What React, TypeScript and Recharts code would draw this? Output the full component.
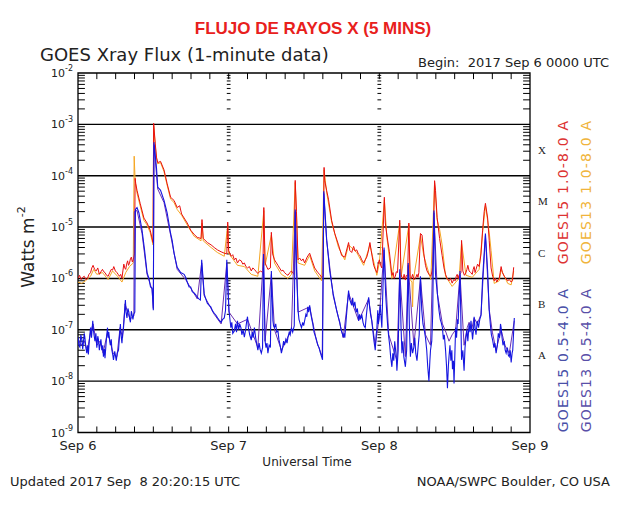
import React from 'react';
import { LineChart, Line, XAxis, YAxis, ReferenceLine, ReferenceArea } from 'recharts';

// ---------- data (time in hours since 2017 Sep 6 00:00 UT, flux in W/m^2) ----------
const dayTicks = [0, 24, 48, 72];
const dayLabels = ['Sep 6', 'Sep 7', 'Sep 8', 'Sep 9'];
const decadeTicks = [1e-9, 1e-8, 1e-7, 1e-6, 1e-5, 1e-4, 1e-3, 1e-2];
const gridDecades = [1e-8, 1e-7, 1e-6, 1e-5, 1e-4, 1e-3];
const classTicks = [3.1623e-8, 3.1623e-7, 3.1623e-6, 3.1623e-5, 3.1623e-4];
const classLetters = ['A', 'B', 'C', 'M', 'X'];
const hourTicks = [3, 6, 9, 12, 15, 18, 21, 24, 27, 30, 33, 36, 39, 42, 45, 48, 51, 54, 57, 60, 63, 66, 69];
const minorMult = [2, 3, 4, 5, 6, 7, 8, 9];
const decadeExps = [-9, -8, -7, -6, -5, -4, -3];

const g15Long: [number, number][] = [
  [0, 1.0e-6], [0.25, 1.15e-6], [0.5, 9.5e-7], [0.75, 1.05e-6], [1.0, 1.1e-6], [1.25, 9.5e-7], [1.5, 1.0e-6],
  [1.75, 1.2e-6], [2.0, 1.3e-6], [2.2, 1.6e-6], [2.4, 1.8e-6], [2.65, 1.5e-6], [2.9, 1.4e-6], [3.15, 1.6e-6],
  [3.4, 1.2e-6], [3.65, 1.35e-6], [3.9, 1.5e-6], [4.1, 1.35e-6], [4.3, 1.3e-6], [4.55, 1.15e-6],
  [4.8, 1.1e-6], [5.05, 1.3e-6], [5.3, 1.5e-6], [5.5, 1.45e-6], [5.7, 1.7e-6], [5.95, 1.4e-6],
  [6.2, 1.3e-6], [6.4, 1.2e-6], [6.6, 1.1e-6], [6.8, 1.2e-6], [7.0, 1.0e-6], [7.15, 1.4e-6], [7.3, 1.9e-6],
  [7.45, 1.6e-6], [7.6, 1.5e-6], [7.75, 1.9e-6], [7.9, 2.2e-6], [8.05, 1.8e-6], [8.2, 2.0e-6],
  [8.35, 2.4e-6], [8.5, 2.6e-6], [8.65, 2.1e-6], [8.8, 2.3e-6], [9.0, 3.0e-6], [9.1, 8.9e-5],
  [9.2, 7.0e-5], [9.4, 5.2e-5], [9.9, 2.9e-5], [10.5, 1.5e-5], [11.0, 1.2e-5], [11.5, 8.7e-6],
  [11.95, 5.0e-6], [12.05, 1.05e-3], [12.3, 4.3e-4], [12.5, 2.3e-4], [12.7, 1.8e-4], [13.15, 1.9e-4],
  [13.7, 1.3e-4], [14.2, 7.0e-5], [14.75, 3.8e-5], [15.3, 3.3e-5], [15.8, 2.4e-5], [16.2, 2.6e-5],
  [16.5, 1.8e-5], [16.9, 1.5e-5], [17.4, 1.2e-5], [17.95, 8.7e-6], [18.5, 7.2e-6], [19.0, 6.3e-6],
  [19.6, 6.0e-6], [19.75, 1.4e-5], [19.95, 6.0e-6], [20.6, 5.0e-6], [21.2, 4.5e-6], [21.7, 4.0e-6],
  [22.2, 3.6e-6], [22.8, 3.3e-6], [23.3, 3.1e-6], [23.7, 3.0e-6], [23.85, 1.25e-5], [24.0, 3.5e-6],
  [24.4, 2.7e-6], [24.65, 2.9e-6], [24.9, 2.3e-6], [25.15, 2.5e-6], [25.4, 2.0e-6], [25.7, 2.3e-6],
  [26.0, 2.2e-6], [26.25, 1.9e-6], [26.5, 2.0e-6], [26.75, 1.7e-6], [27.0, 1.6e-6], [27.3, 1.7e-6],
  [27.6, 1.4e-6], [27.85, 1.6e-6], [28.1, 1.5e-6], [28.4, 1.35e-6], [28.65, 1.25e-6], [29.05, 1.4e-6],
  [29.45, 1.3e-6], [29.6, 2.4e-5], [29.8, 2.0e-6], [30.25, 1.5e-6], [30.65, 1.6e-6], [30.8, 7.9e-6],
  [31.0, 3.0e-6], [31.3, 2.3e-6], [31.85, 1.8e-6], [32.1, 1.6e-6], [32.4, 1.4e-6], [32.65, 1.45e-6],
  [32.9, 1.3e-6], [33.2, 1.2e-6], [33.45, 1.15e-6], [33.75, 1.3e-6], [34.0, 1.4e-6], [34.4, 1.2e-6],
  [34.6, 8.1e-5], [34.8, 2.0e-5], [35.05, 2.3e-6], [35.3, 2.5e-6], [35.6, 2.2e-6], [35.85, 2.4e-6],
  [36.1, 2.0e-6], [36.5, 2.6e-6], [36.9, 3.1e-6], [37.3, 2.2e-6], [37.7, 1.6e-6], [38.2, 1.3e-6],
  [38.5, 1.2e-6], [38.8, 1.05e-6], [39.05, 1.1e-6], [39.2, 1.45e-4], [39.3, 8.0e-5], [39.6, 5.2e-5],
  [39.9, 3.5e-5], [40.4, 1.36e-5], [40.9, 7.5e-6], [41.5, 4.5e-6], [42.0, 2.8e-6], [42.5, 2.6e-6],
  [43.1, 5.0e-6], [43.3, 3.5e-6], [43.6, 3.2e-6], [43.9, 4.2e-6], [44.15, 3.4e-6], [44.4, 3.6e-6],
  [44.65, 3.0e-6], [44.9, 2.8e-6], [45.2, 2.3e-6], [45.5, 2.0e-6], [45.75, 2.3e-6], [46.0, 2.6e-6],
  [46.25, 3.4e-6], [46.5, 5.0e-6], [46.7, 3.5e-6], [46.9, 2.5e-6], [47.1, 1.8e-6], [47.35, 1.5e-6],
  [47.6, 1.3e-6], [47.8, 1.9e-6], [48.0, 2.3e-6], [48.2, 1.8e-6], [48.4, 1.6e-6], [48.8, 3.8e-5],
  [48.95, 1.2e-5], [49.2, 7.0e-6], [49.6, 3.3e-6], [50.0, 1.15e-6], [50.2, 1.3e-6], [50.35, 1.0e-6],
  [50.55, 1.1e-6], [50.7, 1.35e-6], [50.9, 1.3e-6], [51.25, 1.36e-5], [51.45, 1.2e-6], [51.6, 1.05e-6],
  [51.8, 1.0e-6], [51.95, 1.2e-6], [52.15, 9.3e-7], [52.3, 1.15e-6], [52.5, 1.1e-6], [52.7, 1.2e-5],
  [52.9, 1.1e-6], [53.1, 1.0e-6], [53.3, 1.2e-6], [53.5, 9.5e-7], [53.75, 1.0e-6], [54.0, 1.2e-6],
  [54.15, 1.05e-6], [54.3, 1.3e-6], [54.55, 7.5e-6], [54.8, 7.0e-6], [55.1, 3.0e-6], [55.35, 1.8e-6],
  [55.6, 1.4e-6], [55.9, 1.2e-6], [56.2, 1.1e-6], [56.4, 1.4e-6], [56.55, 2.0e-6], [56.8, 8.0e-5],
  [56.95, 5.2e-5], [57.2, 1.55e-5], [57.6, 6.0e-6], [58.0, 2.8e-6], [58.3, 1.6e-6], [58.55, 1.2e-6],
  [58.8, 1.0e-6], [59.1, 9.0e-7], [59.35, 1.0e-6], [59.6, 8.1e-7], [59.85, 9.5e-7], [60.1, 9.0e-7],
  [60.25, 1.1e-6], [60.4, 1.2e-6], [60.55, 1.0e-6], [60.7, 1.15e-6], [61.0, 1.3e-6], [61.1, 5.5e-6],
  [61.3, 1.4e-6], [61.55, 1.15e-6], [61.8, 1.3e-6], [61.95, 1.5e-6], [62.1, 1.8e-6], [62.3, 1.4e-6],
  [62.55, 1.3e-6], [62.8, 1.2e-6], [62.95, 1.5e-6], [63.1, 1.7e-6], [63.25, 1.3e-6], [63.4, 1.5e-6],
  [63.65, 1.9e-6], [63.9, 1.7e-6], [64.2, 3.0e-6], [64.45, 8.7e-6], [64.7, 2.0e-5], [64.9, 2.9e-5],
  [65.25, 1.5e-5], [65.5, 5.5e-6], [65.8, 1.6e-6], [66.05, 1.1e-6], [66.3, 9.0e-7], [66.5, 1.0e-6],
  [66.7, 8.5e-7], [66.9, 9.5e-7], [67.1, 1.0e-6], [67.25, 1.3e-6], [67.4, 1.7e-6], [67.6, 1.3e-6],
  [67.9, 1.1e-6], [68.15, 1.0e-6], [68.45, 9.0e-7], [68.7, 9.5e-7], [69.0, 8.5e-7], [69.2, 9.0e-7],
  [69.4, 1.65e-6],
];

const g13Long: [number, number][] = [
  [0, 8.5e-7], [0.6, 8.0e-7], [1.2, 9.0e-7], [2.0, 1.1e-6], [2.5, 1.5e-6], [3.0, 1.2e-6], [3.9, 1.3e-6],
  [4.8, 9.5e-7], [5.5, 1.4e-6], [6.3, 1.1e-6], [7.0, 8.5e-7], [7.6, 1.3e-6], [8.2, 1.7e-6], [8.8, 2.0e-6],
  [8.95, 2.4e-4], [9.1, 8.0e-5], [9.4, 4.6e-5], [9.9, 2.6e-5], [10.5, 1.35e-5], [11.0, 1.1e-5],
  [11.5, 7.8e-6], [11.95, 4.5e-6], [12.05, 9.5e-4], [12.3, 4.0e-4], [12.5, 2.2e-4], [12.7, 1.7e-4],
  [13.15, 1.8e-4], [13.7, 1.2e-4], [14.2, 6.5e-5], [14.75, 3.5e-5], [15.3, 3.0e-5], [15.8, 2.2e-5],
  [16.5, 1.7e-5], [17.4, 1.1e-5], [18.5, 6.6e-6], [19.6, 5.4e-6], [19.75, 1.2e-5], [19.95, 5.4e-6],
  [21.2, 4.0e-6], [22.2, 3.2e-6], [23.3, 2.7e-6], [23.85, 1.1e-5], [24.0, 3.1e-6], [25.4, 1.8e-6],
  [26.5, 1.7e-6], [27.6, 1.2e-6], [28.65, 1.1e-6], [29.6, 2.1e-5], [29.8, 1.8e-6], [30.8, 7.0e-6],
  [31.3, 2.0e-6], [32.4, 1.2e-6], [33.45, 1.0e-6], [34.0, 1.2e-6], [34.6, 7.4e-5], [34.8, 1.8e-5],
  [35.05, 2.0e-6], [36.1, 1.8e-6], [36.9, 2.8e-6], [37.7, 1.4e-6], [38.8, 9.0e-7], [39.2, 1.3e-4],
  [39.6, 4.8e-5], [40.4, 1.25e-5], [41.5, 4.0e-6], [42.5, 2.3e-6], [43.1, 4.5e-6], [44.4, 3.2e-6],
  [45.5, 1.8e-6], [46.5, 4.5e-6], [47.6, 1.15e-6], [48.0, 2.0e-6], [48.8, 3.4e-5], [49.2, 6.3e-6],
  [50.0, 1.0e-6], [51.25, 1.2e-5], [51.45, 1.05e-6], [52.7, 1.1e-5], [52.9, 9.5e-7], [53.2, 8.5e-7],
  [53.3, 2.8e-7], [53.4, 9.0e-7], [54.55, 6.8e-6], [55.1, 2.7e-6], [56.2, 9.5e-7], [56.8, 7.2e-5],
  [57.2, 1.4e-5], [57.6, 9.0e-6], [58.0, 4.5e-6], [58.55, 1.1e-6], [59.6, 7.0e-7], [60.7, 1.0e-6],
  [61.1, 5.0e-6], [61.8, 1.15e-6], [62.8, 1.05e-6], [63.9, 1.5e-6], [64.45, 7.8e-6], [64.9, 2.6e-5],
  [65.25, 1.35e-5], [65.5, 8.0e-6], [65.8, 3.5e-6], [66.3, 8.0e-7], [67.1, 9.0e-7], [67.4, 1.5e-6],
  [68.45, 8.0e-7], [69.0, 7.5e-7], [69.4, 1.4e-6],
];

const g15Short: [number, number][] = [
  [0, 7.2e-8], [0.15, 5.0e-8], [0.3, 4.6e-8], [0.45, 8.0e-8], [0.6, 6.5e-8], [0.75, 4.2e-8], [0.85, 5.5e-8],
  [1.0, 8.5e-8], [1.1, 7.0e-8], [1.25, 4.5e-8], [1.4, 3.5e-8], [1.55, 5.0e-8], [1.65, 3.3e-8], [1.8, 6.0e-8],
  [2.0, 1.1e-7], [2.15, 7.0e-8], [2.35, 1.5e-7], [2.45, 1.0e-7], [2.55, 8.0e-8], [2.7, 6.0e-8], [2.85, 8.5e-8],
  [3.0, 4.5e-8], [3.15, 7.5e-8], [3.25, 6.5e-8], [3.4, 4.0e-8], [3.5, 5.0e-8], [3.65, 6.5e-8], [3.8, 4.0e-8],
  [3.95, 5.0e-8], [4.05, 3.0e-8], [4.2, 4.2e-8], [4.3, 2.8e-8], [4.5, 6.0e-8], [4.7, 1.1e-7], [4.8, 7.0e-8],
  [4.9, 9.0e-8], [5.05, 6.0e-8], [5.15, 5.0e-8], [5.3, 6.5e-8], [5.4, 4.0e-8], [5.55, 3.2e-8], [5.65, 2.6e-8],
  [5.85, 3.8e-8], [6.1, 2.5e-8], [6.25, 3.5e-8], [6.45, 4.0e-8], [6.6, 7.0e-8], [6.75, 1.3e-7], [6.85, 8.0e-8],
  [7.0, 5.5e-8], [7.1, 8.0e-8], [7.25, 1.1e-7], [7.4, 2.0e-7], [7.55, 3.8e-7], [7.65, 2.2e-7], [7.8, 1.7e-7],
  [7.95, 2.6e-7], [8.1, 2.2e-7], [8.25, 1.6e-7], [8.35, 1.4e-7], [8.5, 2.3e-7], [8.6, 2.0e-7], [8.75, 1.6e-7],
  [8.87, 2.0e-7], [9.05, 2.2e-7], [9.15, 2.2e-5], [9.4, 2.4e-5], [9.7, 1.9e-5], [10.2, 8.7e-6],
  [10.6, 3.6e-6], [11.0, 1.3e-6], [11.3, 1.0e-6], [11.55, 6.8e-7], [11.8, 6.5e-7], [12.0, 2.4e-7],
  [12.1, 4.5e-4], [12.5, 1.45e-4], [12.7, 6.0e-5], [13.15, 5.2e-5], [13.7, 3.3e-5], [14.2, 1.9e-5],
  [14.75, 7.5e-6], [15.0, 5.5e-6], [15.3, 3.1e-6], [15.8, 1.65e-6], [16.35, 1.3e-6], [16.9, 1.2e-6],
  [17.15, 1.05e-6], [17.4, 8.5e-7], [17.7, 6.8e-7], [17.95, 6.8e-7], [18.2, 5.5e-7], [18.5, 5.2e-7],
  [18.75, 4.8e-7], [19.0, 4.3e-7], [19.25, 4.0e-7], [19.5, 3.8e-7], [19.7, 2.3e-6], [20.1, 5.0e-7],
  [20.35, 4.0e-7], [20.6, 3.3e-7], [20.9, 3.0e-7], [21.15, 2.8e-7], [21.45, 2.3e-7], [21.7, 2.1e-7],
  [22.0, 1.9e-7], [22.25, 1.7e-7], [22.55, 1.5e-7], [22.8, 1.4e-7], [23.05, 1.6e-7], [23.3, 1.7e-7],
  [23.5, 2.4e-7], [23.7, 2.3e-6], [24.05, 2.4e-7], [24.2, 1.6e-7], [24.35, 1.1e-7], [24.5, 1.4e-7],
  [24.65, 8.5e-8], [24.9, 9.5e-8], [25.1, 1.3e-7], [25.25, 9.0e-8], [25.4, 1.5e-7], [25.6, 1.0e-7],
  [25.75, 1.3e-7], [25.95, 1.1e-7], [26.1, 8.0e-8], [26.3, 1.0e-7], [26.5, 7.2e-8], [26.7, 1.0e-7],
  [26.85, 1.4e-7], [27.0, 1.8e-7], [27.15, 1.1e-7], [27.35, 8.0e-8], [27.6, 6.3e-8], [27.75, 9.0e-8],
  [27.9, 7.0e-8], [28.1, 1.1e-7], [28.3, 7.0e-8], [28.45, 5.5e-8], [28.65, 4.0e-8], [28.85, 5.5e-8],
  [29.0, 4.2e-8], [29.2, 3.5e-8], [29.4, 4.5e-8], [29.55, 3.0e-6], [29.8, 6.0e-8], [29.95, 4.5e-8],
  [30.1, 5.5e-8], [30.25, 3.5e-8], [30.45, 5.0e-8], [30.65, 4.5e-8], [30.8, 1.4e-6], [31.05, 1.5e-7],
  [31.15, 1.2e-7], [31.3, 1.1e-7], [31.5, 1.3e-7], [31.65, 9.0e-8], [31.85, 9.5e-8], [32.0, 6.5e-8],
  [32.2, 5.0e-8], [32.4, 3.5e-8], [32.6, 4.5e-8], [32.75, 6.0e-8], [32.9, 5.0e-8], [33.1, 6.5e-8],
  [33.3, 5.5e-8], [33.45, 7.2e-8], [33.65, 9.0e-8], [33.8, 8.0e-8], [34.0, 1.1e-7], [34.2, 9.0e-8],
  [34.45, 1.2e-7], [34.6, 2.2e-5], [34.8, 1.5e-6], [35.05, 2.4e-7], [35.2, 1.6e-7], [35.4, 1.3e-7],
  [35.6, 1.1e-7], [35.8, 1.4e-7], [35.95, 1.2e-7], [36.1, 1.5e-7], [36.3, 2.0e-7], [36.45, 1.8e-7],
  [36.6, 2.8e-7], [36.75, 2.2e-7], [36.9, 3.0e-7], [37.1, 2.0e-7], [37.25, 1.6e-7], [37.4, 1.3e-7],
  [37.6, 9.0e-8], [37.8, 7.5e-8], [38.0, 6.3e-8], [38.2, 5.0e-8], [38.4, 4.5e-8], [38.6, 3.6e-8],
  [38.8, 3.0e-8], [38.95, 2.6e-8], [39.15, 5.0e-5], [39.6, 6.0e-6], [40.1, 1.4e-6], [40.65, 5.0e-7],
  [41.2, 2.4e-7], [41.45, 1.8e-7], [41.7, 1.4e-7], [41.9, 1.0e-7], [42.1, 8.5e-8], [42.25, 7.2e-8],
  [42.4, 8.5e-8], [42.5, 7.0e-8], [42.7, 1.5e-7], [42.9, 3.0e-7], [43.1, 5.8e-7], [43.25, 4.0e-7],
  [43.45, 3.4e-7], [43.6, 3.0e-7], [43.75, 4.2e-7], [43.9, 2.8e-7], [44.1, 3.5e-7], [44.3, 2.2e-7],
  [44.5, 2.6e-7], [44.7, 1.5e-7], [44.85, 2.0e-7], [45.0, 1.6e-7], [45.2, 2.0e-7], [45.4, 1.4e-7],
  [45.55, 1.2e-7], [45.75, 1.1e-7], [45.95, 2.0e-7], [46.1, 3.0e-7], [46.3, 4.3e-7], [46.45, 2.8e-7],
  [46.6, 2.0e-7], [46.8, 1.5e-7], [46.95, 1.0e-7], [47.15, 6.0e-8], [47.35, 4.0e-8], [47.5, 8.0e-8],
  [47.6, 1.0e-7], [47.75, 2.4e-7], [47.85, 1.3e-7], [48.0, 2.0e-7], [48.15, 3.0e-7], [48.3, 1.6e-7],
  [48.4, 1.1e-7], [48.75, 4.0e-6], [49.0, 5.0e-7], [49.2, 2.0e-7], [49.35, 1.1e-7], [49.5, 7.2e-8],
  [49.65, 5.0e-8], [49.8, 3.0e-8], [50.0, 1.9e-8], [50.15, 3.5e-8], [50.3, 2.5e-8], [50.45, 6.0e-8],
  [50.55, 4.5e-8], [50.7, 3.0e-8], [50.8, 1.6e-8], [51.0, 4.0e-8], [51.25, 1.5e-6], [51.45, 1.2e-7],
  [51.6, 3.5e-8], [51.75, 6.0e-8], [51.9, 3.0e-8], [52.15, 1.9e-8], [52.35, 4.0e-8], [52.6, 2.0e-6],
  [52.8, 1.0e-7], [52.95, 3.0e-8], [53.1, 5.5e-8], [53.3, 3.5e-8], [53.5, 4.6e-8], [53.65, 7.0e-8],
  [53.8, 3.5e-8], [54.0, 2.5e-8], [54.2, 5.0e-8], [54.35, 8.0e-8], [54.55, 1.1e-6], [54.75, 2.5e-7],
  [54.95, 1.3e-7], [55.15, 1.0e-7], [55.35, 7.0e-8], [55.55, 4.0e-8], [55.7, 2.0e-8], [55.9, 1.0e-8],
  [56.05, 2.5e-8], [56.15, 4.0e-8], [56.35, 6.0e-8], [56.5, 2.0e-7], [56.7, 2.1e-5], [56.95, 1.2e-6],
  [57.25, 5.0e-7], [57.5, 2.4e-7], [57.7, 1.6e-7], [57.85, 1.4e-7], [58.05, 1.1e-7], [58.2, 6.5e-8],
  [58.35, 8.0e-8], [58.55, 4.0e-8], [58.7, 2.0e-8], [58.85, 7.3e-9], [59.0, 2.0e-8], [59.1, 3.0e-8],
  [59.25, 5.0e-8], [59.4, 2.5e-8], [59.55, 4.0e-8], [59.65, 1.7e-8], [59.8, 2.5e-8], [59.9, 9.0e-9],
  [60.05, 4.0e-8], [60.15, 1.1e-7], [60.3, 7.0e-8], [60.45, 1.6e-7], [60.55, 1.3e-7], [60.85, 1.4e-6],
  [61.1, 2.6e-8], [61.3, 4.0e-8], [61.5, 1.6e-8], [61.65, 4.5e-8], [61.8, 7.0e-8], [61.95, 1.0e-7],
  [62.1, 6.0e-8], [62.3, 1.3e-7], [62.45, 9.0e-8], [62.6, 1.5e-7], [62.85, 6.5e-8], [63.0, 1.0e-7],
  [63.1, 1.8e-7], [63.25, 1.1e-7], [63.4, 8.0e-8], [63.6, 1.5e-7], [63.8, 1.1e-7], [64.0, 1.6e-7],
  [64.2, 1.9e-7], [64.45, 1.0e-6], [64.9, 7.5e-6], [65.25, 1.4e-6], [65.5, 2.4e-7], [65.7, 1.2e-7],
  [65.85, 8.0e-8], [66.05, 6.3e-8], [66.25, 4.5e-8], [66.4, 5.5e-8], [66.6, 3.5e-8], [66.8, 5.0e-8],
  [66.95, 8.5e-8], [67.15, 7.0e-8], [67.3, 1.3e-7], [67.4, 1.1e-7], [67.55, 7.0e-8], [67.7, 5.0e-8],
  [67.9, 6.0e-8], [68.05, 4.0e-8], [68.2, 3.5e-8], [68.4, 4.5e-8], [68.55, 3.2e-8], [68.7, 3.0e-8],
  [68.85, 4.0e-8], [69.0, 2.3e-8], [69.15, 3.5e-8], [69.25, 4.0e-8], [69.5, 1.7e-7],
];

const g13Short: [number, number][] = [
  [0, 6.5e-8], [0.5, 5.0e-8], [1.0, 6.0e-8], [1.5, 4.0e-8], [2.0, 9.0e-8], [2.4, 1.3e-7], [3.0, 5.0e-8],
  [3.5, 6.0e-8], [4.0, 3.5e-8], [4.7, 9.0e-8], [5.1, 6.0e-8], [5.6, 3.5e-8], [6.2, 3.0e-8], [6.7, 1.1e-7],
  [7.1, 7.0e-8], [7.5, 3.2e-7], [7.9, 2.2e-7], [8.3, 1.6e-7], [8.9, 1.9e-7], [8.97, 2.0e-5], [9.4, 2.1e-5],
  [10.2, 7.5e-6], [11.0, 1.2e-6], [11.8, 6.0e-7], [12.0, 2.6e-7], [12.1, 4.0e-4], [12.7, 5.5e-5],
  [13.7, 3.0e-5], [14.75, 7.0e-6], [15.8, 1.5e-6], [17.15, 9.5e-7], [19.0, 4.0e-7], [19.7, 2.0e-6],
  [20.1, 4.6e-7], [21.7, 2.0e-7], [22.8, 1.3e-7], [23.7, 2.0e-6], [24.05, 2.2e-7], [25.4, 1.3e-7],
  [27.0, 1.6e-7], [28.65, 4.5e-8], [29.55, 2.6e-6], [29.8, 6.0e-8], [30.8, 1.2e-6], [31.3, 1.0e-7],
  [32.4, 4.0e-8], [34.0, 1.0e-7], [34.6, 2.0e-5], [35.05, 2.2e-7], [36.9, 2.8e-7], [38.0, 6.0e-8],
  [38.9, 3.0e-8], [39.15, 4.5e-5], [39.6, 5.5e-6], [40.65, 4.6e-7], [42.25, 7.0e-8], [43.1, 5.2e-7],
  [44.7, 1.5e-7], [46.3, 4.0e-7], [47.35, 5.0e-8], [48.0, 1.8e-7], [48.75, 3.6e-6], [49.5, 8.0e-8],
  [50.8, 2.5e-8], [51.25, 1.3e-6], [52.15, 3.0e-8], [52.6, 1.8e-6], [53.5, 5.0e-8], [54.55, 1.0e-6],
  [55.35, 8.0e-8], [56.15, 5.0e-8], [56.7, 1.9e-5], [57.25, 5.0e-7], [58.05, 1.3e-7], [58.6, 9.0e-8],
  [59.1, 6.0e-8], [59.6, 8.0e-8], [60.15, 1.0e-7], [60.85, 1.2e-6], [61.5, 5.0e-8], [62.0, 1.1e-7],
  [62.3, 1.4e-7], [62.7, 1.0e-7], [63.1, 1.7e-7], [63.6, 1.3e-7], [64.2, 2.0e-7], [64.9, 6.8e-6],
  [65.5, 2.5e-7], [66.0, 9.0e-8], [66.6, 4.0e-8], [67.4, 1.0e-7], [68.0, 5.0e-8], [68.7, 3.5e-8],
  [69.5, 1.5e-7],
];

// ---------- helpers ----------
const toRows = (arr: [number, number][]) => arr.map(([t, v]) => ({ t, v }));
const minorValues = decadeExps.flatMap((e) => minorMult.map((m) => m * Math.pow(10, e)));

const FONT = 'DejaVu Sans, Verdana, sans-serif';
const INK = '#222';

function LogTick(props: any) {
  const { x, y, payload } = props;
  const exp = Math.round(Math.log10(payload.value));
  return (
    <text x={x} y={y + 4} textAnchor="end" fontSize={11} fill={INK} fontFamily={FONT}>
      <tspan>10</tspan>
      <tspan dy={-6} fontSize={8}>{String(exp)}</tspan>
    </text>
  );
}

function ClassTick(props: any) {
  const { x, y, payload } = props;
  const idx = Math.floor(Math.log10(payload.value) + 1e-9) + 8;
  return (
    <text x={x} y={y + 4} fontSize={11} fill={INK} fontFamily="Liberation Serif, serif">
      {classLetters[idx]}
    </text>
  );
}

function VText({ x, y, color, children, size = 14 }: any) {
  return (
    <text
      x={x}
      y={y}
      transform={`rotate(-90 ${x} ${y})`}
      textAnchor="middle"
      dominantBaseline="central"
      fontSize={size}
      fill={color}
      fontFamily={FONT}
      letterSpacing={1.2}
    >
      {children}
    </text>
  );
}

export default function App() {
  const segs: any[] = [];
  minorValues.forEach((v, i) => {
    segs.push(<ReferenceLine key={`l${i}`} segment={[{ x: 0, y: v }, { x: 1.1, y: v }]} stroke="#000" ifOverflow="visible" />);
    segs.push(<ReferenceLine key={`r${i}`} segment={[{ x: 70.9, y: v }, { x: 72, y: v }]} stroke="#000" ifOverflow="visible" />);
    [24, 48].forEach((d) =>
      segs.push(
        <ReferenceLine key={`c${d}-${i}`} segment={[{ x: d - 0.3, y: v }, { x: d + 0.3, y: v }]} stroke="#000" ifOverflow="visible" />
      )
    );
  });
  hourTicks.forEach((h) => {
    segs.push(<ReferenceLine key={`t${h}`} segment={[{ x: h, y: 1e-2 }, { x: h, y: 7.6e-3 }]} stroke="#000" ifOverflow="visible" />);
    segs.push(<ReferenceLine key={`b${h}`} segment={[{ x: h, y: 1e-9 }, { x: h, y: 1.31e-9 }]} stroke="#000" ifOverflow="visible" />);
  });

  return (
    <div style={{ position: 'absolute', left: 0, top: 0, width: 640, height: 505, background: '#fff' }}>
      <LineChart width={640} height={505} margin={{ top: 73, right: 80, bottom: 42.5, left: 18 }}>
        <XAxis
          dataKey="t"
          type="number"
          domain={[0, 72]}
          ticks={dayTicks}
          tickFormatter={(v: number) => dayLabels[dayTicks.indexOf(v)]}
          tickLine={false}
          axisLine={false}
          height={30}
          tick={{ fontSize: 13, fill: INK, fontFamily: FONT }}
          allowDataOverflow
        />
        <YAxis
          scale="log"
          domain={[1e-9, 1e-2]}
          ticks={decadeTicks}
          tick={<LogTick />}
          tickLine={false}
          axisLine={false}
          tickSize={3}
          tickMargin={2}
          width={60}
          allowDataOverflow
        />
        <YAxis
          yAxisId="r"
          orientation="right"
          scale="log"
          domain={[1e-9, 1e-2]}
          ticks={classTicks}
          tick={<ClassTick />}
          tickLine={false}
          axisLine={false}
          width={30}
          allowDataOverflow
        />
        {gridDecades.map((v) => (
          <ReferenceLine key={`g${v}`} y={v} stroke="#000" strokeWidth={1.4} ifOverflow="visible" />
        ))}
        {segs}
        <Line data={toRows(g13Long)} dataKey="v" type="linear" stroke="#f5a623" strokeWidth={1} dot={false} isAnimationActive={false} />
        <Line data={toRows(g15Long)} dataKey="v" type="linear" stroke="#e81010" strokeWidth={1} dot={false} isAnimationActive={false} />
        <Line data={toRows(g13Short)} dataKey="v" type="linear" stroke="#6a2fb0" strokeWidth={1} dot={false} isAnimationActive={false} />
        <Line data={toRows(g15Short)} dataKey="v" type="linear" stroke="#1515e0" strokeWidth={1.1} dot={false} isAnimationActive={false} />
        <ReferenceArea x1={0} x2={72} y1={1e-9} y2={1e-2} fill="none" fillOpacity={0} stroke="#000" strokeWidth={1.3} ifOverflow="visible" />
      </LineChart>
      <svg width={640} height={505} style={{ position: 'absolute', left: 0, top: 0, pointerEvents: 'none' }}>
        <text x={313} y={34} textAnchor="middle" fontFamily="Liberation Sans, Arial, sans-serif" fontWeight="bold" fontSize={17} fill="#e8201c">
          FLUJO DE RAYOS X (5 MINS)
        </text>
        <text x={40} y={61} fontSize={18} fill={INK} fontFamily={FONT}>GOES Xray Flux (1-minute data)</text>
        <text x={609} y={67} textAnchor="end" fontSize={13} fill={INK} fontFamily={FONT} style={{ whiteSpace: 'pre' }}>
          {'Begin:  2017 Sep 6 0000 UTC'}
        </text>
        <text x={307} y={466} textAnchor="middle" fontSize={12} fill={INK} fontFamily={FONT}>Universal Time</text>
        <text x={10} y={486} fontSize={13} fill={INK} fontFamily={FONT} style={{ whiteSpace: 'pre' }}>
          {'Updated 2017 Sep  8 20:20:15 UTC'}
        </text>
        <text x={610} y={486} textAnchor="end" fontSize={13} fill={INK} fontFamily={FONT}>NOAA/SWPC Boulder, CO USA</text>
        <text
          x={28}
          y={247}
          transform="rotate(-90 28 247)"
          textAnchor="middle"
          dominantBaseline="central"
          fontSize={17}
          fill={INK}
          fontFamily={FONT}
        >
          Watts m<tspan dy={-7} fontSize={11}>-2</tspan>
        </text>
        <VText x={563} y={192} color="#dd3333">GOES15 1.0-8.0 A</VText>
        <VText x={586} y={192} color="#f0b43c">GOES13 1.0-8.0 A</VText>
        <VText x={563} y={360} color="#4a50a8">GOES15 0.5-4.0 A</VText>
        <VText x={586} y={360} color="#5a4fa8">GOES13 0.5-4.0 A</VText>
      </svg>
    </div>
  );
}
